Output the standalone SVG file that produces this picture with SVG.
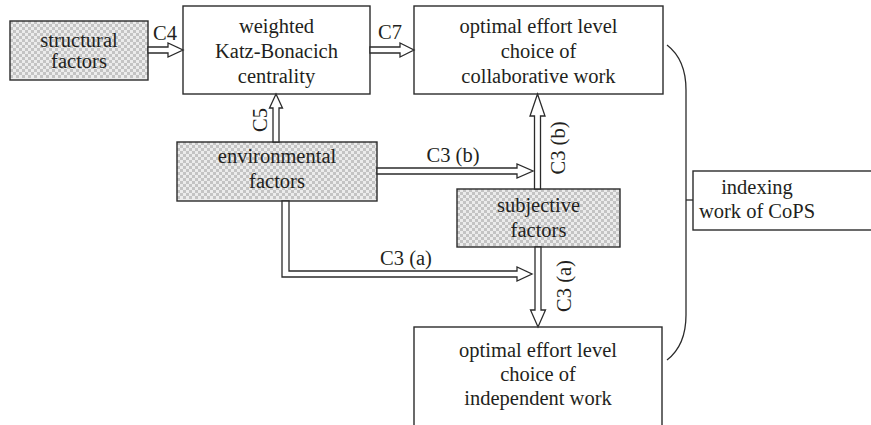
<svg xmlns="http://www.w3.org/2000/svg" width="871" height="425" viewBox="0 0 871 425">
<rect width="871" height="425" fill="#fff"/>
<g font-size="20.5" fill="#231f20" text-anchor="middle" stroke-width="1.4">
<g id="structural">
<rect fill="#ececec" x="10" y="21" width="138" height="59"/>
<path fill="none" stroke="#c4c4c4" stroke-width="3" stroke-dasharray="3 3" d="M10 22.5h138M10 28.5h138M10 34.5h138M10 40.5h138M10 46.5h138M10 52.5h138M10 58.5h138M10 64.5h138M10 70.5h138M10 76.5h138M13 25.5h135M13 31.5h135M13 37.5h135M13 43.5h135M13 49.5h135M13 55.5h135M13 61.5h135M13 67.5h135M13 73.5h135"/>
<rect fill="none" stroke="#2b2b2b" x="10" y="21" width="138" height="59"/>
<text font-family="'Liberation Serif', serif" x="79" y="47">structural</text>
<text font-family="'Liberation Serif', serif" x="79" y="68">factors</text>
</g>
<g id="weighted">
<rect fill="#fff" stroke="#2b2b2b" x="183" y="6" width="187" height="88"/>
<text font-family="'Liberation Serif', serif" x="276.5" y="33">weighted</text>
<text font-family="'Liberation Serif', serif" x="276.5" y="58">Katz-Bonacich</text>
<text font-family="'Liberation Serif', serif" x="276.5" y="83">centrality</text>
</g>
<g id="collab">
<rect fill="#fff" stroke="#2b2b2b" x="414" y="6" width="249" height="88"/>
<text font-family="'Liberation Serif', serif" x="538.5" y="33">optimal effort level</text>
<text font-family="'Liberation Serif', serif" x="538.5" y="58">choice of</text>
<text font-family="'Liberation Serif', serif" x="538.5" y="83">collaborative work</text>
</g>
<g id="environmental">
<rect fill="#ececec" x="177" y="142" width="200" height="59"/>
<path fill="none" stroke="#c4c4c4" stroke-width="3" stroke-dasharray="3 3" d="M177 143.5h200M177 149.5h200M177 155.5h200M177 161.5h200M177 167.5h200M177 173.5h200M177 179.5h200M177 185.5h200M177 191.5h200M177 197.5h200M180 146.5h197M180 152.5h197M180 158.5h197M180 164.5h197M180 170.5h197M180 176.5h197M180 182.5h197M180 188.5h197M180 194.5h197"/>
<rect fill="none" stroke="#2b2b2b" x="177" y="142" width="200" height="59"/>
<text font-family="'Liberation Serif', serif" x="277" y="163">environmental</text>
<text font-family="'Liberation Serif', serif" x="277" y="188">factors</text>
</g>
<g id="subjective">
<rect fill="#ececec" x="457" y="189" width="163" height="58"/>
<path fill="none" stroke="#c4c4c4" stroke-width="3" stroke-dasharray="3 3" d="M457 190.5h163M457 196.5h163M457 202.5h163M457 208.5h163M457 214.5h163M457 220.5h163M457 226.5h163M457 232.5h163M457 238.5h163M457 244.5h163M460 193.5h160M460 199.5h160M460 205.5h160M460 211.5h160M460 217.5h160M460 223.5h160M460 229.5h160M460 235.5h160M460 241.5h160"/>
<rect fill="none" stroke="#2b2b2b" x="457" y="189" width="163" height="58"/>
<text font-family="'Liberation Serif', serif" x="538.5" y="212">subjective</text>
<text font-family="'Liberation Serif', serif" x="538.5" y="237">factors</text>
</g>
<g id="independent">
<rect fill="#fff" stroke="#2b2b2b" x="414" y="327" width="248" height="110"/>
<text font-family="'Liberation Serif', serif" x="538" y="357">optimal effort level</text>
<text font-family="'Liberation Serif', serif" x="538" y="381">choice of</text>
<text font-family="'Liberation Serif', serif" x="538" y="405">independent work</text>
</g>
<g id="indexing">
<rect fill="#fff" stroke="#2b2b2b" x="693" y="171" width="190" height="59"/>
<text font-family="'Liberation Serif', serif" x="757" y="194">indexing</text>
<text font-family="'Liberation Serif', serif" x="757" y="218">work of CoPS</text>
</g>
<g id="connectors">
<g fill="#fff" stroke="#2b2b2b" stroke-width="1.3">
<polygon points="148,47 168,47 168,43 183,50 168,57 168,53 148,53"/>
<polygon points="370,47 400,47 400,43 414,50 400,57 400,53 370,53"/>
<polygon points="273,142 273,108 269.5,108 276,94 282.5,108 279,108 279,142"/>
<polygon points="534.5,189 534.5,116 530,116 537.5,94 545,116 540.5,116 540.5,189"/>
<polygon points="377,168 517,168 517,164 533,171 517,178 517,174 377,174"/>
<polygon points="535,247 535,310 530.5,310 538,327 545.5,310 541,310 541,247"/>
<polygon points="282,201 282,277 517,277 517,281 532,274 517,267 517,271 289,271 289,201"/>
<path fill="none" d="M667,45 C680,55 686,70 686,90 L686,315 C686,335 680,350 667,360"/>
<path fill="none" d="M686,200 L693,200"/>
</g>
<text font-family="'Liberation Serif', serif" x="165" y="40">C4</text>
<text font-family="'Liberation Serif', serif" x="390" y="39">C7</text>
<text font-family="'Liberation Serif', serif" transform="translate(267,120) rotate(-90)">C5</text>
<text font-family="'Liberation Serif', serif" transform="translate(565,148) rotate(-90)">C3 (b)</text>
<text font-family="'Liberation Serif', serif" x="453" y="162">C3 (b)</text>
<text font-family="'Liberation Serif', serif" transform="translate(571,286) rotate(-90)">C3 (a)</text>
<text font-family="'Liberation Serif', serif" x="406" y="265">C3 (a)</text>
</g>
</g>
</svg>
